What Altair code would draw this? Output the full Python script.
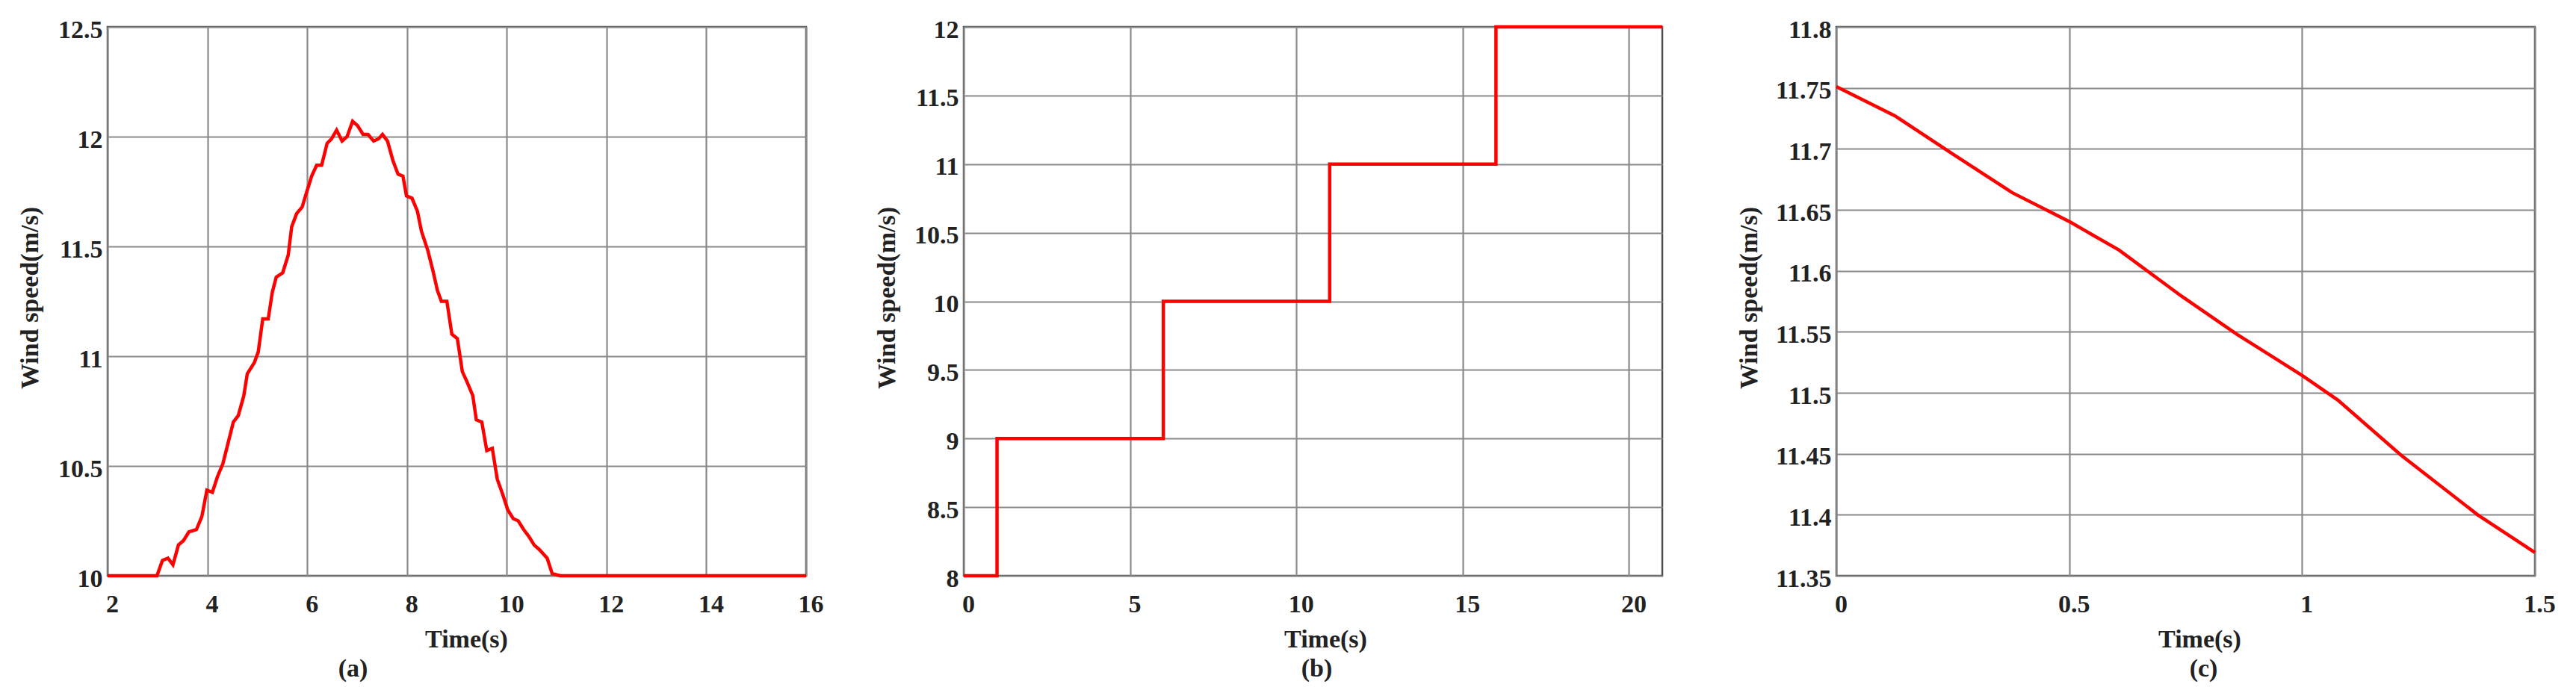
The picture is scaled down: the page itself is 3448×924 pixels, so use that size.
import altair as alt
import pandas as pd

# ---------------- data ----------------
# (a) gust-like wind profile
a_time = [2.0, 2.99, 3.10, 3.21, 3.31, 3.42, 3.52, 3.63, 3.78, 3.89, 3.99, 4.10, 4.20, 4.31,
          4.41, 4.52, 4.62, 4.73, 4.80, 4.94, 5.02, 5.11, 5.22, 5.30, 5.38, 5.51, 5.62,
          5.69, 5.79, 5.90, 5.98, 6.09, 6.19, 6.29, 6.40, 6.49, 6.59, 6.70, 6.80, 6.91,
          7.01, 7.12, 7.22, 7.33, 7.43, 7.51, 7.61, 7.72, 7.82, 7.92, 7.99, 8.10, 8.21,
          8.29, 8.42, 8.52, 8.61, 8.69, 8.80, 8.90, 9.01, 9.11, 9.21, 9.32, 9.39, 9.50,
          9.60, 9.71, 9.81, 9.92, 10.02, 10.13, 10.23, 10.34, 10.44, 10.55, 10.65, 10.81,
          10.91, 11.07, 16.0]
a_speed = [10.0, 10.0, 10.07, 10.08, 10.05, 10.14, 10.16, 10.20, 10.21, 10.27, 10.39, 10.38,
           10.45, 10.51, 10.60, 10.70, 10.73, 10.82, 10.92, 10.97, 11.02, 11.17, 11.17,
           11.29, 11.36, 11.38, 11.46, 11.59, 11.65, 11.68, 11.74, 11.82, 11.87, 11.87,
           11.97, 11.99, 12.03, 11.98, 12.00, 12.07, 12.05, 12.01, 12.01, 11.98, 11.99,
           12.01, 11.98, 11.89, 11.83, 11.82, 11.73, 11.72, 11.66, 11.57, 11.48, 11.39,
           11.30, 11.25, 11.25, 11.10, 11.08, 10.93, 10.88, 10.82, 10.71, 10.70, 10.57,
           10.58, 10.44, 10.37, 10.30, 10.26, 10.25, 10.21, 10.18, 10.14, 10.12, 10.08,
           10.01, 10.0, 10.0]

# (b) step wind profile
b_time = [0, 1, 6, 11, 16, 21]
b_speed = [8, 9, 10, 11, 12, 12]

# (c) decreasing wind
c_time = [0.0, 0.126, 0.249, 0.378, 0.502, 0.607, 0.742, 0.860, 1.001, 1.077, 1.212, 1.377, 1.5]
c_speed = [11.751, 11.727, 11.696, 11.664, 11.640, 11.617, 11.579, 11.548, 11.514, 11.494,
           11.449, 11.400, 11.369]

a_xticks = [2, 4, 6, 8, 10, 12, 14, 16]
a_yticks = [10, 10.5, 11, 11.5, 12, 12.5]
b_xticks = [0, 5, 10, 15, 20]
b_yticks = [8, 8.5, 9, 9.5, 10, 10.5, 11, 11.5, 12]
c_xticks = [0, 0.5, 1, 1.5]
c_yticks = [11.35, 11.4, 11.45, 11.5, 11.55, 11.6, 11.65, 11.7, 11.75, 11.8]

X_TITLE = "Time(s)"
Y_TITLE = "Wind speed(m/s)"

# ---------------- styling ----------------
FONT = "Liberation Serif"
TXT = "#222222"
W, H = 935, 735
FS = 34


def panel(times, speeds, xdom, ydom, xticks, yticks, caption, ytitle_x, xtitle_x,
          cap_dx, interp="linear"):
    df = pd.DataFrame({"t": times, "v": speeds})
    return alt.Chart(df).mark_line(
        color="#ff0000", strokeWidth=4.5, interpolate=interp
    ).encode(
        x=alt.X("t:Q",
                scale=alt.Scale(domain=xdom, nice=False, zero=False),
                axis=alt.Axis(values=xticks, format="~g", title=X_TITLE,
                              titleX=xtitle_x, titleY=95, titleAlign="center",
                              titleBaseline="alphabetic",
                              labelOffset=6, labelPadding=21)),
        y=alt.Y("v:Q",
                scale=alt.Scale(domain=ydom, nice=False, zero=False),
                axis=alt.Axis(values=yticks, format="~g", title=Y_TITLE,
                              titleX=ytitle_x, titleY=H / 2 - 5, titleAngle=270,
                              titleAlign="center", titleBaseline="alphabetic",
                              labelOffset=4, labelPadding=7)),
    ).properties(
        width=W, height=H,
        title=alt.TitleParams(text=caption, orient="bottom", frame="group",
                              anchor="middle", dx=cap_dx, offset=33,
                              baseline="alphabetic", font=FONT, fontSize=FS,
                              fontWeight="bold", color=TXT),
    )


pa = panel(a_time, a_speed, [2, 16], [10, 12.5], a_xticks, a_yticks, "(a)", -94, 480, -139)
pb = panel(b_time, b_speed, [0, 21], [8, 12], b_xticks, b_yticks, "(b)", -93, 484, 5,
           interp="step-after")
pc = panel(c_time, c_speed, [0, 1.5], [11.35, 11.8], c_xticks, c_yticks, "(c)", -107, 486, 24)

chart = alt.hconcat(
    alt.hconcat(pa, pb, spacing=64),
    pc, spacing=86,
).properties(
    padding={"left": 13, "top": 13, "right": 5, "bottom": 0},
    background="white",
).configure_view(
    stroke="#4d4d4d", strokeWidth=2.5,
).configure_axis(
    grid=True, gridColor="#8a8a8a", gridWidth=2.2, gridOpacity=1,
    domain=False, ticks=False, tickSize=0,
    labelFont=FONT, labelFontSize=FS, labelFontWeight="bold", labelColor=TXT,
    titleFont=FONT, titleFontSize=FS, titleFontWeight="bold", titleColor=TXT,
    labelFlush=False, labelOverlap=False,
).configure_concat(spacing=64)

chart.save("out.html", embed_options={"renderer": "svg", "actions": False})
